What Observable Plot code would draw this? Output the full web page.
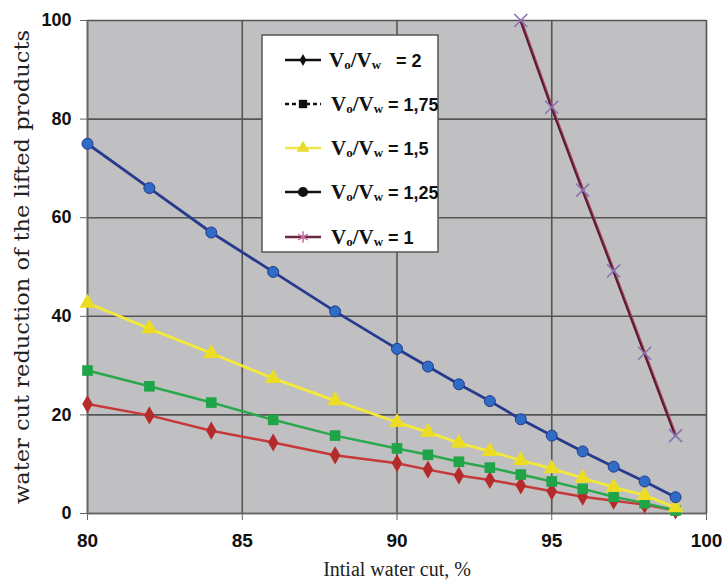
<!DOCTYPE html>
<html><head><meta charset="utf-8">
<script src="https://cdn.jsdelivr.net/npm/d3@7"></script>
<script src="https://cdn.jsdelivr.net/npm/@observablehq/plot@0.6"></script>
<style>
body{margin:0;background:#fff;}
#wrap{position:relative;width:722px;height:586px;}
#legend{position:absolute;left:261px;top:34px;}
</style></head>
<body><div id="wrap"><div id="chart"></div><div id="legend"></div></div>
<script>
const waterCut = [80,82,84,86,88,90,91,92,93,94,95,96,97,98,99];
const ratio2    = [22.2,19.9,16.8,14.4,11.8,10.2,8.9,7.7,6.8,5.7,4.5,3.4,2.6,1.8,0.6];
const ratio175  = [29,25.8,22.5,19,15.8,13.2,11.9,10.5,9.3,7.9,6.5,5,3.4,2.1,0.6];
const ratio15   = [42.7,37.5,32.5,27.4,22.9,18.5,16.5,14.3,12.6,10.8,9.1,7.2,5.3,3.7,1.2];
const ratio125  = [75,66,57,49,41,33.4,29.8,26.2,22.8,19.1,15.8,12.6,9.5,6.5,3.3];
const waterCut1 = [94,95,96,97,98,99];
const ratio1    = [100,82.4,65.6,49.2,32.5,15.8];
const xTicks = [80,85,90,95,100];
const yTicks = [0,20,40,60,80,100];
const labels = ["2","1,75","1,5","1,25","1"];

const mk = (xs, ys) => xs.map((x,i)=>({x, y: ys[i]}));
const s2 = mk(waterCut, ratio2), s175 = mk(waterCut, ratio175), s15 = mk(waterCut, ratio15), s125 = mk(waterCut, ratio125), s1 = mk(waterCut1, ratio1);

const chart = Plot.plot({
  width: 722, height: 586,
  marginLeft: 87, marginRight: 16, marginTop: 20, marginBottom: 73,
  style: {fontFamily: "Liberation Sans, Arial, sans-serif", background: "#fff", overflow: "visible"},
  x: {domain: [80,100]},
  y: {domain: [0,100]},
  marks: [
    Plot.frame({fill: "#c0c0c2", stroke: null}),
    Plot.gridX(xTicks, {stroke: "#555", strokeOpacity: 1, strokeWidth: 1.6}),
    Plot.gridY(yTicks, {stroke: "#555", strokeOpacity: 1, strokeWidth: 1.6}),
    Plot.ruleX([80], {stroke: "#666", strokeWidth: 1.5}),
    Plot.ruleY([0], {stroke: "#666", strokeWidth: 1.5}),
    Plot.axisX(xTicks, {tickSize: 7, tickPadding: 13, fontSize: 19, fontWeight: "bold", label: null, stroke: "#666", fill: "#111"}),
    Plot.axisY(yTicks, {tickSize: 7, tickPadding: 9, fontSize: 18, fontWeight: "bold", label: null, stroke: "#666", fill: "#111"}),
    Plot.text(["Intial water cut, %"], {frameAnchor: "bottom", dy: 62, fontSize: 20, fontFamily: "Liberation Serif, Times New Roman, serif", fill: "#222"}),
    Plot.text(["water cut reduction of the lifted products"], {frameAnchor: "left", textAnchor: "middle", dx: -65, rotate: -90, fontSize: 20, fontFamily: "DejaVu Serif, serif", fill: "#222", className: "ylab"}),
    Plot.line(s2, {x:"x", y:"y", stroke: "#c73838", strokeWidth: 2.5}),
    Plot.dot(s2, {x:"x", y:"y", symbol: "diamond", r: 5.5, fill: "#b52a2a"}),
    Plot.line(s175, {x:"x", y:"y", stroke: "#2aa84c", strokeWidth: 2.5}),
    Plot.dot(s175, {x:"x", y:"y", symbol: "square", r: 6, fill: "#1fa448"}),
    Plot.line(s15, {x:"x", y:"y", stroke: "#f3e93a", strokeWidth: 2.8}),
    Plot.dot(s15, {x:"x", y:"y", symbol: "triangle", r: 6, fill: "#ecdc24"}),
    Plot.line(s125, {x:"x", y:"y", stroke: "#263b8e", strokeWidth: 2.8}),
    Plot.dot(s125, {x:"x", y:"y", symbol: "circle", r: 5.5, fill: "#2f6cc6", stroke: "#233a8a", strokeWidth: 1}),
    Plot.line(s1, {x:"x", y:"y", stroke: "#5a1c34", strokeWidth: 3}),
    Plot.line(s1, {x:"x", y:"y", stroke: "#d05a6a", strokeWidth: 0.8, dx: 1.2}),
    Plot.dot(s1, {x:"x", y:"y", symbol: "times", r: 6, stroke: "#8a72b4", strokeWidth: 1.6})
  ]
});
document.getElementById("chart").append(chart);
d3.select(chart).selectAll(".ylab text").attr("textLength", 474).attr("lengthAdjust", "spacingAndGlyphs");

// legend
const lw = 176, lh = 217;
const lg = d3.select("#legend").append("svg").attr("width", lw+4).attr("height", lh+4);
lg.append("rect").attr("x",1).attr("y",1).attr("width",lw).attr("height",lh).attr("fill","#fff").attr("stroke","#555").attr("stroke-width",1.5);
const rows = [
  {lab: labels[0], line: "#111", sym: d3.symbolDiamond, fill: "#111", size: 40, dash: null},
  {lab: labels[1], line: "#111", sym: d3.symbolSquare, fill: "#111", size: 70, dash: "4,3"},
  {lab: labels[2], line: "#ece64a", sym: d3.symbolTriangle, fill: "#e8dc30", size: 70, dash: null},
  {lab: labels[3], line: "#111", sym: d3.symbolCircle, fill: "#111", size: 80, dash: null},
  {lab: labels[4], line: "#6a2840", sym: d3.symbolAsterisk, fill: "none", size: 90, dash: null, stroke: "#c070a0"}
];
const rowY = [26, 70, 114, 158, 203];
rows.forEach((r,i) => {
  const g = lg.append("g").attr("transform", `translate(0,${rowY[i]})`);
  g.append("line").attr("x1",24).attr("x2",60).attr("y1",0).attr("y2",0).attr("stroke",r.line).attr("stroke-width",2.5).attr("stroke-dasharray",r.dash);
  g.append("path").attr("d", d3.symbol(r.sym, r.size)()).attr("transform","translate(42,0)")
    .attr("fill", r.fill).attr("stroke", r.stroke || "none").attr("stroke-width", 1.5);
  const t = g.append("text").attr("x", i === 0 ? 68 : 70).attr("y", 7).attr("fill","#111").attr("font-weight","bold").style("white-space","pre");
  t.append("tspan").attr("font-family","Liberation Serif, serif").attr("font-size",21).text("V");
  t.append("tspan").attr("font-family","Liberation Serif, serif").attr("font-size",13).attr("dy",2).text("o");
  t.append("tspan").attr("font-family","Liberation Serif, serif").attr("font-size",21).attr("dy",-2).text("/V");
  t.append("tspan").attr("font-family","Liberation Serif, serif").attr("font-size",13).attr("dy",2).text("w");
  t.append("tspan").attr("font-family","Liberation Sans, sans-serif").attr("font-size",18).attr("dy",-2).text(i===0 ? "   = " + r.lab : " = " + r.lab);
});
</script></body></html>
